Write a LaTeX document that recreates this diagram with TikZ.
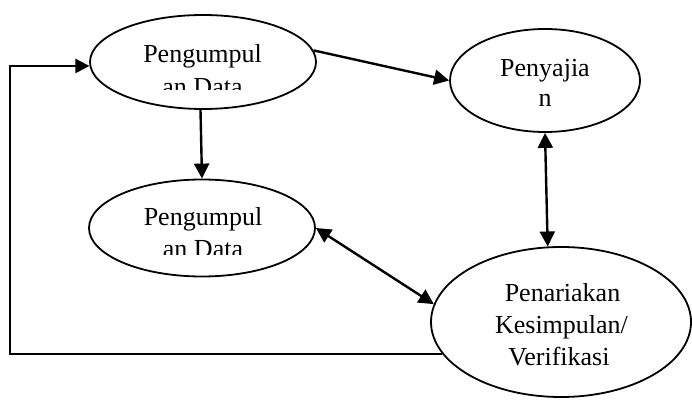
\documentclass[tikz,border=0pt]{standalone}
\usepackage{fontspec}
\setmainfont{Liberation Serif}
\usetikzlibrary{shapes.geometric,arrows.meta}
\begin{document}
\begin{tikzpicture}[x=1pt,y=1pt,
  oval/.style={draw,ellipse,line width=1.8pt,inner sep=0pt},
  lbl/.style={anchor=base,inner sep=0pt,font=\fontsize{26}{31}\selectfont},
  tip/.style={Triangle[length=15pt,width=15pt]},
  link/.style={line width=2.4pt,-{Triangle[length=15pt,width=15pt]}},
  both/.style={line width=2.4pt,{Triangle[length=15pt,width=15pt]}-{Triangle[length=15pt,width=15pt]}},
  loop/.style={line width=2pt,-{Triangle[length=14pt,width=14pt]}}]
\useasboundingbox (0,0) rectangle (692,399);

% the four stages
\node[oval,minimum width=226pt,minimum height=94pt] (e1) at (203,337) {};
\node[oval,minimum width=190pt,minimum height=103pt] (e2) at (545,318.5) {};
\node[oval,minimum width=226pt,minimum height=97pt] (e3) at (202,171) {};
\node[oval,minimum width=260pt,minimum height=150pt] (e4) at (561,77) {};

% labels (second line of the data boxes is cut off)
\node[lbl] (t1a) at (202.5,336) {Pengumpul};
\begin{scope}
  \clip (0,309) rectangle (692,399);
  \node[lbl] (t1b) at (202.5,303) {an Data};
\end{scope}
\node[lbl] (t2a) at (545,322) {Penyajia};
\node[lbl] (t2b) at (545,292) {n};
\node[lbl] (t3a) at (203,173) {Pengumpul};
\begin{scope}
  \clip (0,145) rectangle (692,399);
  \node[lbl] (t3b) at (203,141.3) {an Data};
\end{scope}
\node[lbl] (t4a) at (562.5,97.3) {Penariakan};
\node[lbl] (t4b) at (561.5,66) {Kesimpulan/};
\node[lbl] (t4c) at (559,34) {Verifikasi};

% connectors
\draw[link] (e1.6) -- (e2.west);
\draw[link] (e1.267) -- (e3.north);
\draw[both] (e2.south) -- (e4.100);
\draw[both] (e3.east) -- (e4.172);

% feedback loop
\coordinate (fb) at (10,0);
\draw[loop] (e4.195) -- (fb |- e4.195) -- (fb |- e1.182) -- (e1.182);
\end{tikzpicture}
\end{document}
